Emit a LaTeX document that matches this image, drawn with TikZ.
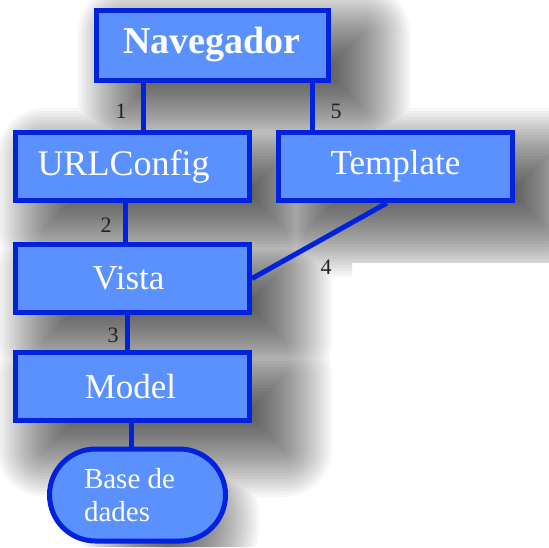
\documentclass[tikz,border=0pt]{standalone}
\usepackage{fontspec}
\setmainfont{Liberation Serif}
\usetikzlibrary{calc,shapes.misc,backgrounds}
\definecolor{boxfill}{HTML}{5A91FF}
\definecolor{boxline}{HTML}{0022DD}
\definecolor{numcol}{HTML}{222222}
\begin{document}
\begin{tikzpicture}[x=0.5pt,y=-0.5pt,
  box/.style={draw=boxline, fill=boxfill, line width=2.5pt, text=white,
    minimum width=117pt, minimum height=34pt, inner sep=0pt},
  link/.style={draw=boxline, line width=2.5pt},
  num/.style={text=numcol, font=\fontsize{11}{12}\selectfont, inner sep=0pt}]
\useasboundingbox (0,0) rectangle (549,547);

\node[box, font=\fontsize{19}{22}\selectfont\bfseries, minimum width=116pt, minimum height=35pt] (nav) at (212,45) {Navegador};
\node[box, font=\fontsize{18}{21}\selectfont] (url) at (132.5,166.5) {URLConfig\kern9pt};
\node[box, font=\fontsize{17.5}{21}\selectfont] (tpl) at (395.5,166.5) {Template};
\node[box, font=\fontsize{17.5}{21}\selectfont] (vista) at (132.5,278.5) {Vista\kern4pt};
\node[box, font=\fontsize{17.5}{21}\selectfont] (model) at (132.5,386.5) {Model\kern2pt};
\node[box, rounded rectangle, minimum width=88pt, minimum height=46pt,
  font=\fontsize{14.5}{16.5}\selectfont, align=left] (base) at (137.5,495) {Base de\hspace*{8pt}\\dades};

% one soft drop shadow under the whole diagram: each ring is a single
% union path, so overlapping boxes do not darken each other
\begin{scope}[on background layer]
  \fill[white] (0,0) rectangle (549,547);
  \clip (0,0) -- (549,0) -- (549,263) -- (352,263) -- (352,547) -- (0,547) -- cycle;
  \foreach \k in {0,...,26}{
    \pgfmathsetmacro\ee{-30+\k*3}
    \pgfmathsetmacro\rr{max(0,\ee)*0.5}
    \pgfmathsetmacro\rb{(48+\ee)*0.5}
    \fill[black, opacity=0.032]
      [rounded corners=\rr pt]
      ($(nav.south west)+(32-\ee,26+\ee)$) rectangle ($(nav.north east)+(32+\ee,26-\ee)$)
      ($(url.south west)+(32-\ee,26+\ee)$) rectangle ($(url.north east)+(32+\ee,26-\ee)$)
      ($(tpl.south west)+(32-\ee,26+\ee)$) rectangle ($(tpl.north east)+(32+\ee,26-\ee)$)
      ($(vista.south west)+(32-\ee,26+\ee)$) rectangle ($(vista.north east)+(32+\ee,26-\ee)$)
      ($(model.south west)+(32-\ee,26+\ee)$) rectangle ($(model.north east)+(32+\ee,26-\ee)$)
      [rounded corners=\rb pt]
      ($(base.south west)+(32-\ee,26+\ee)$) rectangle ($(base.north east)+(32+\ee,26-\ee)$);
  }
\end{scope}

\draw[link] ($(nav.south west)!0.21!(nav.south east)$) coordinate (a1) -- (a1 |- url.north);
\draw[link] ($(nav.south west)!0.924!(nav.south east)$) coordinate (a5) -- (a5 |- tpl.north);
\draw[link] ($(url.south west)!0.469!(url.south east)$) coordinate (a2) -- (a2 |- vista.north);
\draw[link] ($(vista.south west)!0.481!(vista.south east)$) coordinate (a3) -- (a3 |- model.north);
\draw[link] ($(model.south west)!0.494!(model.south east)$) coordinate (a6) -- (a6 |- base.north);
\draw[link] ($(tpl.south west)!0.464!(tpl.south east)$) -- (vista.east);

\node[num] (n1) at (121,111) {1};
\node[num] (n5) at (336,111) {5};
\node[num] (n2) at (106,225) {2};
\node[num] (n4) at (326,267) {4};
\node[num] (n3) at (113,335) {3};
\end{tikzpicture}
\end{document}
